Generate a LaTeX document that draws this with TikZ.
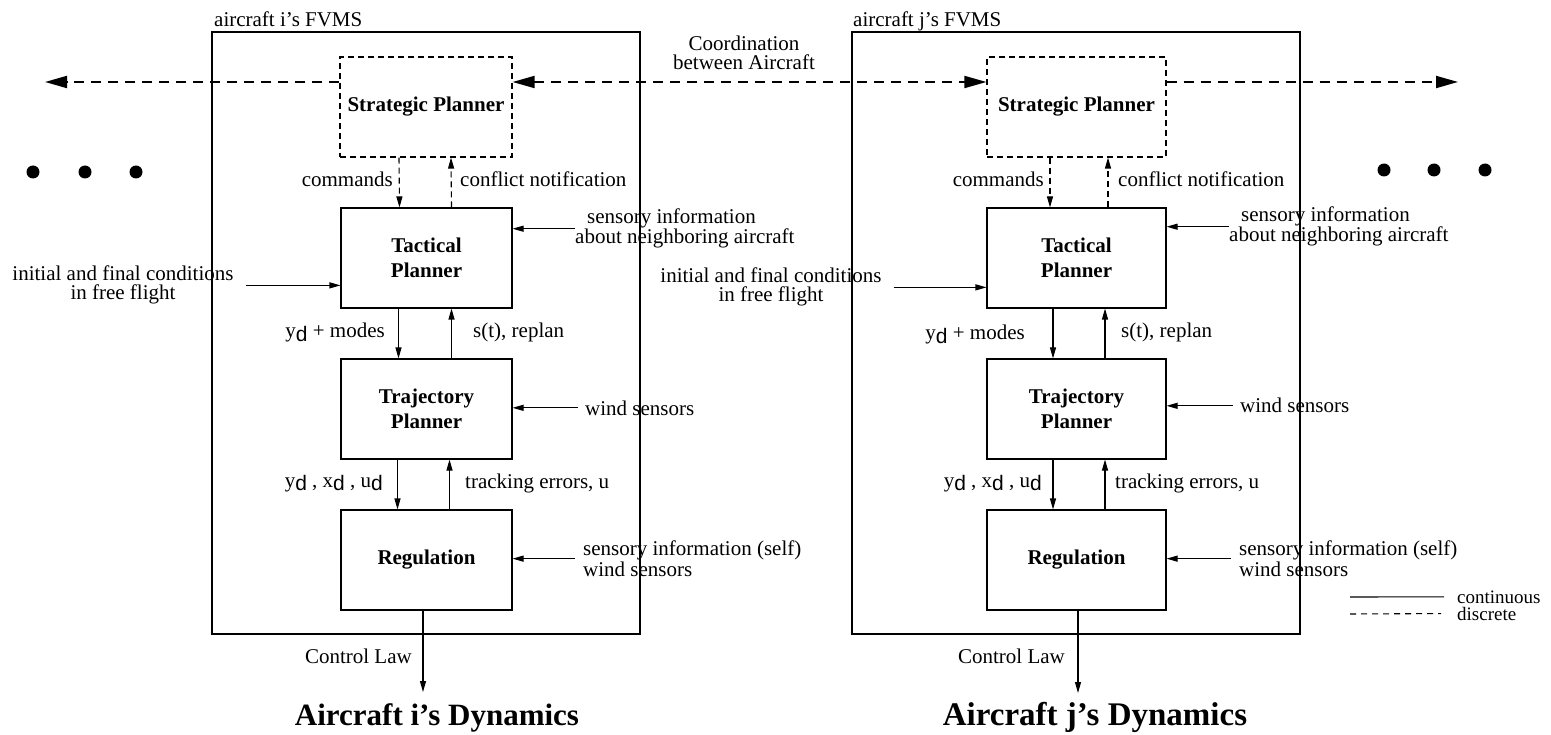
\documentclass[tikz,border=0pt]{standalone}
\usepackage{fontspec}
\setmainfont{Liberation Serif}
\setsansfont{Liberation Sans}
\usetikzlibrary{arrows.meta}
\newcommand{\dsub}{\raisebox{-0.35ex}{\sffamily d}}
\tikzset{
  txt/.style={inner sep=0pt, font=\fontsize{21}{19}\selectfont},
  block/.style={draw, line width=1.1pt, minimum height=100pt, inner sep=0pt, align=center, font=\bfseries\fontsize{21}{25}\selectfont},
  dblock/.style={block, dash pattern=on 6pt off 4pt},
  panel/.style={draw, line width=1.1pt, inner sep=0pt, minimum height=602pt},
  flow/.style={line width=1.1pt, -{Triangle[length=11pt,width=6pt]}},
  dflow/.style={flow, dash pattern=on 6pt off 4pt},
  coord/.style={line width=1.8pt, dash pattern=on 10pt off 7pt, -{Triangle[length=22pt,width=12pt]}},
  dot/.style={circle, fill, inner sep=0pt, minimum size=13pt},
  title/.style={inner sep=0pt, anchor=base}
}
\begin{document}
\begin{tikzpicture}[x=1pt, y=-1pt]
    \useasboundingbox (0,0) rectangle (1551,735);
    \node[panel, minimum width=428pt] (fvi) at (426,333) {};
    \node[txt, anchor=base west] (fvilab) at (214,27) {aircraft i's FVMS};
    \node[dblock, minimum width=172pt] (spi) at (426,107) {Strategic Planner};
    \node[block, minimum width=171pt] (tpi) at (426.5,258) {Tactical\\Planner};
    \node[block, minimum width=171pt] (tri) at (426.5,409) {Trajectory\\Planner};
    \node[block, minimum width=171pt] (rgi) at (426.5,560) {Regulation};
    \node[title, font=\bfseries\fontsize{31}{31}\selectfont] (dyni) at (437,725) {Aircraft i's Dynamics};
    \coordinate (cli) at (423,692);
    \draw[dflow] ([xshift=-27pt]spi.south) -- ([xshift=-27pt]tpi.north);
    \draw[dflow] ([xshift=25pt]tpi.north) -- ([xshift=25pt]spi.south);
    \draw[flow] ([xshift=-28pt]tpi.south) -- ([xshift=-28pt]tri.north);
    \draw[flow] ([xshift=25pt]tri.north) -- ([xshift=25pt]tpi.south);
    \draw[flow] ([xshift=-29pt]tri.south) -- ([xshift=-29pt]rgi.north);
    \draw[flow] ([xshift=23pt]rgi.north) -- ([xshift=23pt]tri.south);
    \draw[flow] (rgi.south -| cli) -- (cli);
    \node[txt, anchor=base east] (cmdi) at (393,187) {commands};
    \node[txt, anchor=base west] (cnfi) at (460,187) {conflict notification};
    \node[txt, anchor=base west, align=left] (nbi) at (575,244) {\hspace*{12pt}sensory information\\about neighboring aircraft};
    \node[txt, anchor=base, align=center] (ini) at (123,300) {initial and final conditions\\in free flight};
    \node[txt, anchor=base east] (ymi) at (385,338) {y\dsub{} + modes};
    \node[txt, anchor=base west] (sti) at (473,338) {s(t), replan};
    \node[txt, anchor=base west] (wdi) at (585,415) {wind sensors};
    \node[txt, anchor=base east] (ydi) at (383,487) {y\dsub{} , x\dsub{} , u\dsub};
    \node[txt, anchor=base west] (tei) at (465,488) {tracking errors, u};
    \node[txt, anchor=base west, align=left] (sfi) at (583,576) {sensory information (self)\\wind sensors};
    \node[txt, anchor=base east] (clawi) at (412,663) {Control Law};
    \draw[flow] (nbi.west) -- (nbi.west -| tpi.east);
    \draw[flow, shorten <=12pt] (ini.east) -- (ini.east -| tpi.west);
    \draw[flow, shorten <=7pt] (wdi.west) -- (wdi.west -| tri.east);
    \draw[flow, shorten <=8pt] (sfi.west) -- (sfi.west -| rgi.east);

    \node[panel, minimum width=448pt] (fvj) at (1076,333) {};
    \node[txt, anchor=base west] (fvjlab) at (853,27) {aircraft j's FVMS};
    \node[dblock, minimum width=179pt] (spj) at (1076.5,107) {Strategic Planner};
    \node[block, minimum width=179pt] (tpj) at (1076.5,258) {Tactical\\Planner};
    \node[block, minimum width=179pt] (trj) at (1076.5,409) {Trajectory\\Planner};
    \node[block, minimum width=179pt] (rgj) at (1076.5,560) {Regulation};
    \node[title, font=\bfseries\fontsize{33}{33}\selectfont] (dynj) at (1095,725) {Aircraft j's Dynamics};
    \coordinate (clj) at (1078,693);
    \draw[dflow] ([xshift=-26.5pt]spj.south) -- ([xshift=-26.5pt]tpj.north);
    \draw[dflow] ([xshift=31.5pt]tpj.north) -- ([xshift=31.5pt]spj.south);
    \draw[flow] ([xshift=-23.5pt]tpj.south) -- ([xshift=-23.5pt]trj.north);
    \draw[flow] ([xshift=28.5pt]trj.north) -- ([xshift=28.5pt]tpj.south);
    \draw[flow] ([xshift=-23.5pt]trj.south) -- ([xshift=-23.5pt]rgj.north);
    \draw[flow] ([xshift=28.5pt]rgj.north) -- ([xshift=28.5pt]trj.south);
    \draw[flow] (rgj.south -| clj) -- (clj);
    \node[txt, anchor=base east] (cmdj) at (1044,187) {commands};
    \node[txt, anchor=base west] (cnfj) at (1118,187) {conflict notification};
    \node[txt, anchor=base west, align=left] (nbj) at (1229,242) {\hspace*{12pt}sensory information\\about neighboring aircraft};
    \node[txt, anchor=base, align=center] (inj) at (771,302) {initial and final conditions\\in free flight};
    \node[txt, anchor=base east] (ymj) at (1025,340) {y\dsub{} + modes};
    \node[txt, anchor=base west] (stj) at (1121,338) {s(t), replan};
    \node[txt, anchor=base west] (wdj) at (1240,413) {wind sensors};
    \node[txt, anchor=base east] (ydj) at (1042,487) {y\dsub{} , x\dsub{} , u\dsub};
    \node[txt, anchor=base west] (tej) at (1115,488) {tracking errors, u};
    \node[txt, anchor=base west, align=left] (sfj) at (1239,576) {sensory information (self)\\wind sensors};
    \node[txt, anchor=base east] (clawj) at (1065,663) {Control Law};
    \draw[flow] (nbj.west) -- (nbj.west -| tpj.east);
    \draw[flow, shorten <=12pt] (inj.east) -- (inj.east -| tpj.west);
    \draw[flow, shorten <=7pt] (wdj.west) -- (wdj.west -| trj.east);
    \draw[flow, shorten <=8pt] (sfj.west) -- (sfj.west -| rgj.east);

    \node[txt, anchor=south, align=center] (coo) at (744,70) {Coordination\\between Aircraft};
    \coordinate (ltip) at (45,82);
    \coordinate (rtip) at (1458,82);
    \draw[coord] ([yshift=25pt]spi.west) -- (ltip);
    \draw[coord, {Triangle[length=22pt,width=12pt]}-{Triangle[length=22pt,width=12pt]}] ([yshift=25pt]spi.east) -- ([yshift=25pt]spj.west);
    \draw[coord] ([yshift=25pt]spj.east) -- (rtip);

    \node[dot] (d1) at (33,172) {};
    \node[dot] (d2) at (85,172) {};
    \node[dot] (d3) at (136,172) {};
    \node[dot] (d4) at (1384,170) {};
    \node[dot] (d5) at (1434,170) {};
    \node[dot] (d6) at (1485,170) {};

    \node[txt, anchor=base west, font=\fontsize{19}{19}\selectfont] (lgc) at (1457,603) {continuous};
    \node[txt, anchor=base west, font=\fontsize{19}{19}\selectfont] (lgd) at (1457,620) {discrete};
    \coordinate (lgca) at (1350,597);
    \coordinate (lgda) at (1350,614);
    \draw[line width=1.1pt, shorten >=13pt] (lgca) -- (lgc.west -| 1457,0);
    \draw[line width=1.1pt, dash pattern=on 6pt off 5pt, shorten >=16pt] (lgda) -- (lgd.west -| 1457,0);
\end{tikzpicture}
\end{document}
